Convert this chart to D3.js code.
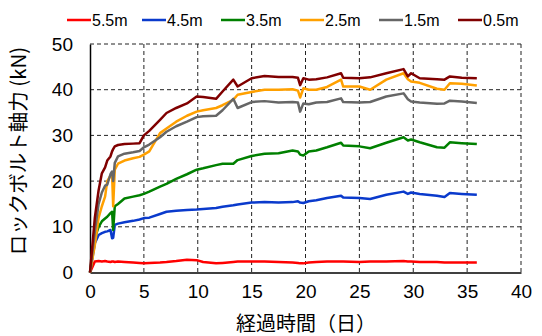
<!DOCTYPE html>
<html>
<head>
<meta charset="utf-8">
<script src="https://cdn.jsdelivr.net/npm/d3@7"></script>
<style>
    body { margin: 0; background: #fff; }
    svg text { font-family: "Liberation Sans", "Noto Sans CJK JP", sans-serif; fill: #000; }
    .jp { font-family: "Noto Sans CJK JP", sans-serif; }
</style>
</head>
<body>
<div id="chart"></div>
<script>
"use strict";

// elapsed days, shared by every series
const days = [
    0, 0.45, 0.8, 1.1, 1.4, 1.6, 1.9, 2.05, 2.15, 2.3,
    2.6, 3.2, 4.0, 4.6, 5.0, 5.5, 6.5, 7.1, 8.0, 9.0,
    9.9, 10.5, 11.7, 12.3, 13.3, 13.7, 15.0, 16.2, 17.5, 18.8,
    19.3, 19.5, 19.8, 20.3, 21.0, 22.0, 23.3, 23.5, 25.0, 26.0,
    27.5, 29.1, 29.5, 29.8, 30.6, 32.2, 32.9, 33.4, 34.5, 35.9
];

// axial force (kN) per depth
const force55 = [
    0, 2.4, 2.5, 2.4, 2.5, 2.4, 2.3, 2.4, 2.4, 2.3,
    2.4, 2.3, 2.2, 2.1, 2.0, 2.1, 2.2, 2.3, 2.5, 2.8,
    2.7, 2.3, 2.0, 2.1, 2.3, 2.4, 2.4, 2.4, 2.3, 2.2,
    2.1, 2.0, 2.0, 2.2, 2.3, 2.4, 2.4, 2.4, 2.3, 2.4,
    2.4, 2.5, 2.4, 2.4, 2.3, 2.3, 2.2, 2.2, 2.2, 2.2
];
const force45 = [
    0, 6.4, 8.2, 8.6, 8.9, 9.0, 9.3, 7.5, 7.6, 10.4,
    10.7, 11.0, 11.3, 11.6, 11.9, 12.0, 12.8, 13.3, 13.5, 13.7,
    13.8, 13.9, 14.1, 14.4, 14.7, 14.9, 15.3, 15.4, 15.3, 15.4,
    15.6, 15.3, 15.2, 15.6, 15.8, 16.3, 16.8, 16.4, 16.3, 16.1,
    17.0, 17.7, 17.2, 17.5, 17.2, 16.8, 16.5, 17.4, 17.2, 17.0
];
const force35 = [
    0, 7.5, 10.0, 11.2, 11.8, 12.2, 13.0, 13.3, 9.3, 14.5,
    15.0, 16.2, 16.6, 16.9, 17.2, 17.7, 18.8, 19.4, 20.5, 21.5,
    22.5, 22.8, 23.5, 23.8, 23.8, 24.6, 25.5, 26.0, 26.1, 26.7,
    26.5, 25.8, 25.6, 26.5, 26.7, 27.4, 28.4, 27.8, 27.6, 27.2,
    28.4, 29.6, 28.9, 29.1, 28.5, 27.4, 27.3, 28.5, 28.3, 28.1
];
const force25 = [
    0, 6.0, 12.0, 14.5, 16.6, 20.0, 21.2, 21.5, 14.5, 22.5,
    23.8, 24.5, 25.0, 25.3, 25.8, 26.5, 30.5, 31.5, 33.0, 34.3,
    35.2, 35.5, 36.0, 36.6, 37.8, 38.9, 39.5, 40.0, 40.0, 40.1,
    39.8, 38.3, 40.3, 40.0, 40.0, 40.6, 42.2, 40.7, 40.7, 40.0,
    42.2, 43.6, 42.3, 41.8, 41.5, 40.2, 40.0, 41.4, 41.3, 40.9
];
const force15 = [
    0, 9.0, 15.0, 17.5, 19.0, 19.2, 21.5, 22.1, 20.0, 24.0,
    25.4, 26.0, 26.3, 26.6, 27.4, 28.0, 29.6, 30.8, 32.0, 33.0,
    34.0, 34.2, 34.3, 35.5, 38.0, 36.0, 37.3, 37.5, 37.2, 37.3,
    37.2, 35.2, 37.0, 36.8, 37.2, 37.3, 38.1, 37.3, 37.2, 37.3,
    38.5, 39.2, 37.9, 37.4, 37.2, 36.9, 37.0, 37.6, 37.4, 37.1
];
const force05 = [
    0, 12.0, 18.0, 21.7, 23.0, 24.5, 25.4, 26.5, 27.0, 27.6,
    27.9, 28.1, 28.2, 28.3, 30.0, 31.0, 33.4, 34.9, 36.0, 37.0,
    38.5, 38.4, 38.0, 39.6, 42.2, 40.7, 42.5, 43.0, 42.8, 42.8,
    42.6, 41.0, 42.5, 42.2, 42.3, 42.7, 43.6, 42.6, 42.5, 42.7,
    43.6, 44.5, 42.9, 43.6, 42.5, 42.3, 42.2, 42.9, 42.6, 42.5
];

const seriesNames = ["5.5m", "4.5m", "3.5m", "2.5m", "1.5m", "0.5m"];
const seriesColors = ["#ff0000", "#0a3acc", "#008000", "#ffa000", "#666666", "#800000"];
const seriesValues = [force55, force45, force35, force25, force15, force05];

const xTicks = [0, 5, 10, 15, 20, 25, 30, 35, 40];
const yTicks = [0, 10, 20, 30, 40, 50];

function draw() {
    let width = 542;
    let height = 336;
    let margin = { top: 44, right: 21, bottom: 63.5, left: 90 };
    let w = width - margin.left - margin.right;
    let h = height - margin.top - margin.bottom;

    let svg = d3.select("#chart").append("svg")
        .attr("width", width)
        .attr("height", height);

    let g = svg.append("g")
        .attr("transform", "translate(" + margin.left + "," + margin.top + ")");

    let xScale = d3.scaleLinear().domain([0, 40]).range([0, w]);
    let yScale = d3.scaleLinear().domain([0, 50]).range([h, 0]);

    // dashed grid
    g.selectAll(".vgrid")
        .data(xTicks.filter(d => d > 0))
        .enter()
        .append("line")
        .attr("x1", d => xScale(d)).attr("x2", d => xScale(d))
        .attr("y1", 0).attr("y2", h)
        .attr("stroke", "#222")
        .attr("stroke-width", 1)
        .attr("stroke-dasharray", "4,3");

    g.selectAll(".hgrid")
        .data(yTicks.filter(d => d > 0))
        .enter()
        .append("line")
        .attr("x1", 0).attr("x2", w)
        .attr("y1", d => yScale(d)).attr("y2", d => yScale(d))
        .attr("stroke", "#222")
        .attr("stroke-width", 1)
        .attr("stroke-dasharray", "4,3");

    // axes
    let xAxis = d3.axisBottom(xScale).tickValues(xTicks).tickSize(0).tickPadding(12);
    let yAxis = d3.axisLeft(yScale).tickValues(yTicks).tickSize(0).tickPadding(17);

    let gx = g.append("g")
        .attr("transform", "translate(0," + h + ")")
        .call(xAxis);
    gx.select(".domain").attr("stroke", "#000").attr("stroke-width", 1.5);
    gx.selectAll("text").style("font-size", "19px");

    let gy = g.append("g").call(yAxis);
    gy.select(".domain").attr("stroke", "#000").attr("stroke-width", 1.5);
    gy.selectAll("text").style("font-size", "19px");

    // lines
    let line = d3.line()
        .x((d, i) => xScale(days[i]))
        .y(d => yScale(d));

    seriesValues.forEach((vals, k) => {
        g.append("path")
            .datum(vals)
            .attr("fill", "none")
            .attr("stroke", seriesColors[k])
            .attr("stroke-width", 2.5)
            .attr("stroke-linejoin", "round")
            .attr("d", line);
    });

    // axis titles
    svg.append("text")
        .attr("class", "jp")
        .attr("x", 306)
        .attr("y", 331)
        .attr("text-anchor", "middle")
        .style("font-size", "20px")
        .text("経過時間（日）");

    svg.append("text")
        .attr("class", "jp")
        .attr("transform", "translate(26,151) rotate(-90)")
        .attr("text-anchor", "middle")
        .style("font-size", "20.5px")
        .text("ロックボルト軸力 (kN)");

    // legend
    let legendX = [67, 142, 221, 300, 379, 458];
    let legend = svg.selectAll(".legend")
        .data(seriesNames)
        .enter()
        .append("g")
        .attr("transform", (d, i) => "translate(" + legendX[i] + ",20)");
    legend.append("line")
        .attr("x1", 0).attr("x2", 24)
        .attr("y1", 0).attr("y2", 0)
        .attr("stroke", (d, i) => seriesColors[i])
        .attr("stroke-width", 2.5);
    legend.append("text")
        .attr("x", 25)
        .attr("y", 6)
        .style("font-size", "16px")
        .text(d => d);
}

draw();
</script>
</body>
</html>
